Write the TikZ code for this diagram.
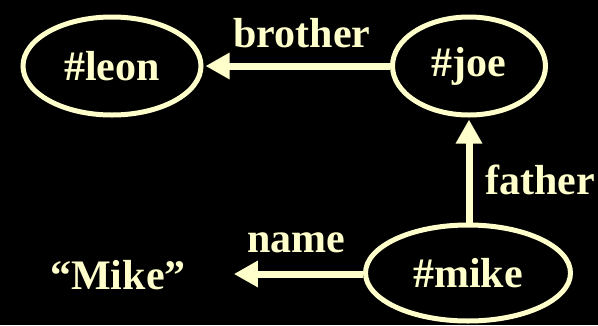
\documentclass[tikz,border=0pt]{standalone}
\usepackage{fontspec}
\setmainfont{Liberation Serif}
\usetikzlibrary{shapes.geometric,arrows.meta}
\definecolor{cream}{HTML}{FFFFCC}
\begin{document}
\begin{tikzpicture}[x=1pt,y=-1pt,
  every node/.style={text=cream,font=\fontsize{42}{46}\selectfont\bfseries},
  ent/.style={draw=cream,line width=5pt,ellipse,inner sep=0pt},
  rel/.style={draw=cream,line width=7pt,-{Triangle[length=24pt,width=25pt]},shorten >=2pt}]
\fill[black] (0,0) rectangle (598,325);
\useasboundingbox (0,0) rectangle (598,325);
\node[ent,minimum width=178pt,minimum height=98pt] (leon) at (112,66) {\#leon};
\node[ent,minimum width=153pt,minimum height=98pt] (joe) at (469,66) {\#joe};
\node[ent,minimum width=205pt,minimum height=96pt] (mike) at (468,273) {\#mike};
\node[inner sep=0pt] (str) at (118,275) {“Mike”};
\draw[rel] (joe) -- (leon);
\draw[rel] (mike.north -| joe.south) -- (joe.south);
\draw[rel,shorten >=48pt] (mike.west |- 0,274) -- (str.east |- 0,274);
\node (lbro) at (302,33) {brother};
\node (lfat) at (540,180) {father};
\node (lnam) at (296,243) {name};
\end{tikzpicture}
\end{document}
